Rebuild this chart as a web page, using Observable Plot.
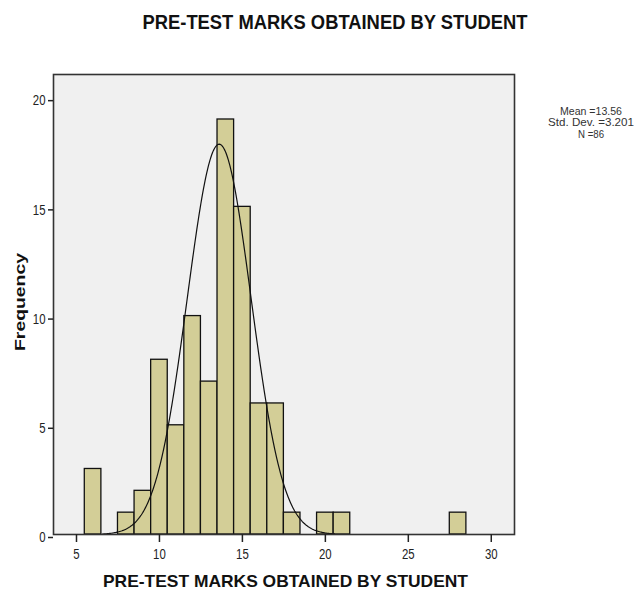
<!DOCTYPE html>
<html>
<head>
<meta charset="utf-8">
<script src="https://cdn.jsdelivr.net/npm/d3@7"></script>
<script src="https://cdn.jsdelivr.net/npm/@observablehq/plot@0.6"></script>
<style>
  html, body { margin: 0; padding: 0; background: #fff; }
  svg { display: block; }
</style>
</head>
<body>
<div id="chart"></div>
<script>
// Histogram: marks (bin centres) and frequencies
const marks  = [6, 8, 9, 10, 11, 12, 13, 14, 15, 16, 17, 18, 20, 21, 28];
const counts = [3, 1, 2,  8,  5, 10,  7, 19, 15,  6,  6,  1,  1,  1,  1];
const xTicks = [5, 10, 15, 20, 25, 30];
const yTicks = [0, 5, 10, 15, 20];
const stats  = ["Mean =13.56", "Std. Dev. =3.201", "N =86"];
const titleText = "PRE-TEST MARKS OBTAINED BY STUDENT";
const xLabel = "PRE-TEST MARKS OBTAINED BY STUDENT";
const yLabel = "Frequency";

// Normal curve overlay: parameters
const curveMean = 13.6;
const curveSd = 1.92;
const curveN = 86;
const curveFrom = 6.55, curveTo = 20.55;

const bins = marks.map((m, i) => ({mark: m, count: counts[i]}));
const curvePts = d3.range(curveFrom, curveTo + 0.001, 0.05).map(x => ({
  x,
  y: curveN / (curveSd * Math.sqrt(2 * Math.PI)) * Math.exp(-0.5 * ((x - curveMean) / curveSd) ** 2)
}));

const chart = Plot.plot({
  width: 642,
  height: 591,
  marginTop: 74,
  marginRight: 128,
  marginBottom: 57,
  marginLeft: 53,
  style: {fontFamily: "'Liberation Sans', Arial, sans-serif", color: "#222", background: "#fff"},
  x: {domain: [3.614, 31.4]},
  y: {domain: [0, 21.06]},
  marks: [
    Plot.frame({fill: "#f0f0f0", stroke: null}),
    Plot.rect(bins, {x1: d => d.mark - 0.5, x2: d => d.mark + 0.5, y1: 0, y2: "count",
      fill: "#d3ce97", stroke: "#111", strokeWidth: 1.3}),
    Plot.line(curvePts, {x: "x", y: "y", stroke: "#111", strokeWidth: 1.2}),
    Plot.frame({stroke: "#333", strokeWidth: 1.6}),
    Plot.axisX({ticks: xTicks, tickSize: 8, tickPadding: 6, fontSize: 15, label: null,
      stroke: "#222", strokeWidth: 1.5}),
    Plot.axisY({ticks: yTicks, tickSize: 5, tickPadding: 3, fontSize: 15, label: null,
      stroke: "#222", strokeWidth: 1.5, dy: 3})
  ]
});

document.getElementById("chart").appendChild(chart);
const svg = d3.select(chart);

// condense tick labels horizontally
svg.selectAll("g[aria-label$='tick label'] text").each(function() {
  const len = this.getComputedTextLength();
  d3.select(this).attr("textLength", len * 0.76).attr("lengthAdjust", "spacingAndGlyphs");
});

const xr = chart.scale("x").range;
const yr = chart.scale("y").range;
const xMid = (xr[0] + xr[1]) / 2;
const yMid = (yr[0] + yr[1]) / 2;

function addText(txt, opts) {
  const t = svg.append("text")
    .text(txt)
    .attr("text-anchor", "middle")
    .attr("font-family", "'Liberation Sans', Arial, sans-serif")
    .attr("font-weight", opts.bold ? "bold" : "normal")
    .attr("font-size", opts.size)
    .attr("fill", opts.fill || "#111")
    .attr("textLength", opts.length)
    .attr("lengthAdjust", "spacingAndGlyphs");
  if (opts.rotate) t.attr("transform", `translate(${opts.x},${opts.y}) rotate(-90)`);
  else t.attr("x", opts.x).attr("y", opts.y);
  return t;
}

addText(titleText, {x: 335, y: 29, size: 21, bold: true, length: 385});
addText(xLabel, {x: xMid + 2, y: 587, size: 17, bold: true, length: 365});
addText(yLabel, {x: 24.5, y: yMid - 2, size: 14, bold: true, length: 98, rotate: true});

const statLens = [62, 86, 26];
stats.forEach((s, i) => {
  addText(s, {x: 591, y: 114.5 + i * 11.5, size: 11, length: statLens[i], fill: "#333"});
});
</script>
</body>
</html>
